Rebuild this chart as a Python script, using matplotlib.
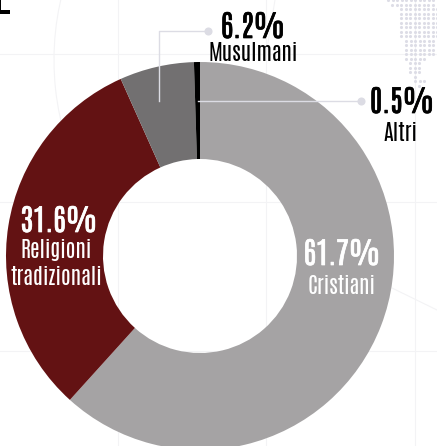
import matplotlib
matplotlib.use("Agg")
import matplotlib.pyplot as plt
import matplotlib.patheffects as pe
from matplotlib.patches import Arc

W, H = 437, 446
FONT = ["Antonio", "Liberation Sans", "DejaVu Sans"]

labels = ["Cristiani", "Religioni\ntradizionali", "Musulmani", "Altri"]
shares = [61.7, 31.6, 6.2, 0.5]
colors = ["#a5a3a4", "#631213", "#727071", "#000000"]

# dotted map corner: one (first x, last x) per row, 4.5 px apart
dot_rows = [(388, 433), (392, 433), (401, 437), (401, 437), (401, 437), (401, 437), (401, 437), (401, 437),
            (401, 437), (406, 437), (406, 437), (406, 437), (406, 433), (406, 424), (410, 419), (410, 419),
            (410, 419), (415, 419), (415, 424), (419, 419)]


def yy(y):
    # positions below are measured from the top edge
    return H - y


fig = plt.figure(figsize=(W / 100, H / 100), dpi=100)
ax = fig.add_axes([0, 0, 1, 1])

# faint graticule behind everything
grid = "#f3f3f5"
for y in [54, 202, 351]:
    ax.plot([0, W], [yy(y), yy(y)], color=grid, lw=0.8, zorder=0)
for x in [118, 266, 415]:
    ax.plot([x, x], [0, H], color=grid, lw=0.8, zorder=0)
ax.add_patch(Arc((200, yy(60)), 292, 400, theta1=90, theta2=230, color=grid, lw=0.8, zorder=0))
ax.plot([275, 266], [yy(0), yy(55)], color=grid, lw=0.8, zorder=0)
ax.plot([392, W], [yy(288), yy(310)], color=grid, lw=0.8, zorder=0)

dx, dy = [], []
for i, (x0, x1) in enumerate(dot_rows):
    x = x0
    while x <= x1:
        dx.append(x)
        dy.append(yy(i * 4.5))
        x += 4.5
ax.scatter(dx, dy, s=5, color="#dddde6", linewidths=0, zorder=1)

ax.fill([0, 1.2, 1.2, 10, 10, 0], [H, H, yy(9.7), yy(9.7), yy(14.3), yy(14.3)], color="black", lw=0, zorder=2)

ax.pie(shares, colors=colors, startangle=90, counterclock=False, center=(200, yy(256)), radius=194,
       wedgeprops=dict(width=97, linewidth=0, zorder=3), frame=True)
ax.set_xlim(0, W)
ax.set_ylim(0, H)
ax.set_aspect("auto")
ax.axis("off")

# leader lines
lead = "#dcdce4"
ax.plot([208, 159, 159], [yy(31), yy(31), yy(101)], color=lead, lw=1, zorder=4)
ax.plot([198, 361], [yy(101), yy(101)], color=lead, lw=1, zorder=4)
ax.scatter([208, 361], [yy(31), yy(101)], s=34, color=lead, linewidths=0, zorder=4)


def label(x, base, s, size, color, heavy=False):
    t = ax.text(x, yy(base), s, family=FONT, fontsize=size, color=color,
                ha="center", va="baseline", zorder=5)
    if heavy:
        # the font only ships one weight, so fatten the percentages with a stroke
        t.set_path_effects([pe.withStroke(linewidth=0.5, foreground=color)])


big, small = 21.5, 15.8
label(253, 38, f"{shares[2]}%", big, "black", True)
label(253.5, 61, labels[2], small, "black")
label(402, 113, f"{shares[3]}%", big, "black", True)
label(400, 141, labels[3], small, "black")
label(59, 232, f"{shares[1]}%", big, "white", True)
label(56, 258, labels[1].split("\n")[0], small, "white")
label(56, 285, labels[1].split("\n")[1], small, "white")
label(342, 265, f"{shares[0]}%", big, "white", True)
label(342, 294, labels[0], small, "white")

fig.savefig("out.png", dpi=100)
